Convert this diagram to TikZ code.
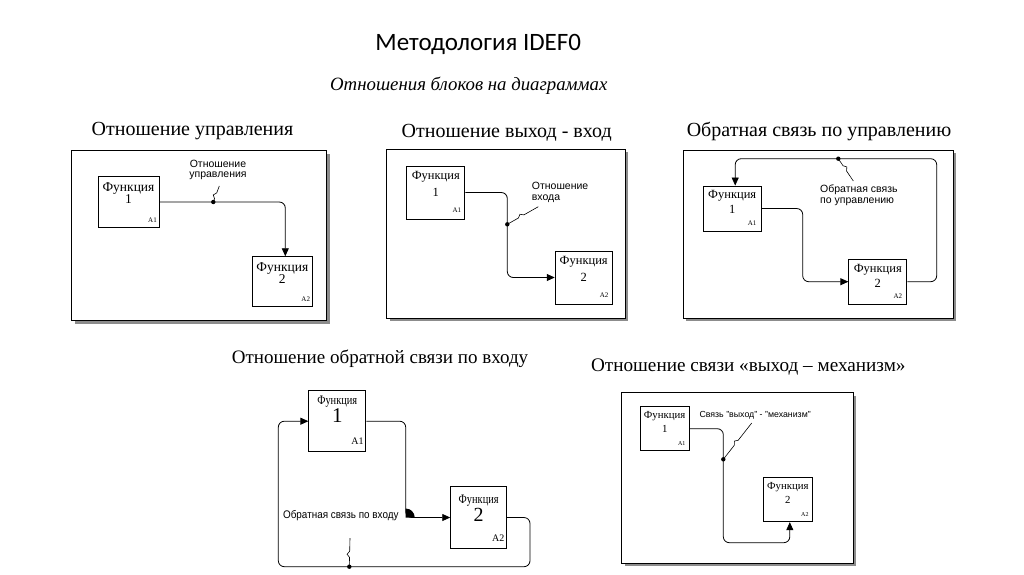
\documentclass[tikz,border=0pt]{standalone}
\usepackage{fontspec}
\setmainfont{Liberation Serif}
\setsansfont{Liberation Sans}
\newfontfamily\headfont{Carlito}
\usetikzlibrary{arrows.meta}
\usetikzlibrary{positioning}
\usetikzlibrary{decorations.pathmorphing}

\tikzset{
  fbox/.style={draw, line width=0.9pt, inner sep=0pt, fill=white},
  ftext/.style={align=center, inner sep=0pt},
  fcode/.style={inner sep=0pt, font=\fontsize{7}{7}\selectfont},
  flow/.style={line width=0.8pt, rounded corners=6pt, -{Triangle[length=8pt,width=7pt]}},
  squig/.style={line width=0.6pt, decorate, decoration={snake, amplitude=2.5pt, segment length=10pt, pre length=#1, post length=#1}},
  squig/.default=4pt,
  note/.style={font=\sffamily\fontsize{10.5}{10.5}\selectfont, inner sep=0pt},
  heading/.style={font=\fontsize{20}{22}\selectfont},
  frame/.style={draw, line width=0.7pt, fill=white},
  shadow/.style={fill=black!45},
}

\begin{document}
\begin{tikzpicture}[x=1pt,y=-1pt]
\useasboundingbox (0,0) rectangle (1024,574);

\node[font=\headfont\fontsize{25}{30}\selectfont] (title) at (478.3,44) {Методология IDEF0};
\node[font=\itshape\fontsize{18.8}{22}\selectfont] (sub) at (468.8,86) {Отношения блоков на диаграммах};

% panel 1
\node[heading] (h1) at (192.5,131) {Отношение управления};
\fill[shadow] (74.7,153.7) rectangle (329.7,323.7);
\draw[frame] (71.7,150.7) rectangle (326.7,320.7);
\node[fbox, minimum width=61pt, minimum height=51pt] (a1) at (128.5,202) {};
\node[fbox, minimum width=60pt, minimum height=50pt] (a2) at (282.3,281.7) {};
\node[ftext, font=\fontsize{13.5}{12.5}\selectfont, below=6pt of a1.north] (a1t) {Функция\\1};
\node[ftext, font=\fontsize{13.5}{12.5}\selectfont, below=6pt of a2.north] (a2t) {Функция\\2};
\node[fcode, above left=5pt and 2.5pt of a1.south east] (a1c) {A1};
\node[fcode, above left=5pt and 2.5pt of a2.south east] (a2c) {A2};
\coordinate (a12) at (213.3,202);
\draw[flow] (a1.east) -| ([xshift=3pt]a2.north);
\fill (a12) circle (2.2pt);
\node[note, align=center] (l1) at (218,170) {Отношение\\управления};
\coordinate (s1) at (219.3,186);
\draw[squig=3.5pt] (a12) -- (s1);

% panel 2
\node[heading] (h2) at (506.7,133) {Отношение выход - вход};
\fill[shadow] (389.7,152.3) rectangle (628,321.3);
\draw[frame] (386.7,149.3) rectangle (625,318.3);
\node[fbox, minimum width=58pt, minimum height=53pt] (b1) at (435.8,192.5) {};
\node[fbox, minimum width=57pt, minimum height=53pt] (b2) at (583.7,277.5) {};
\node[ftext, font=\fontsize{12.5}{17}\selectfont, below=5.5pt of b1.north] (b1t) {Функция\\1};
\node[ftext, font=\fontsize{12.5}{17}\selectfont, below=5.5pt of b2.north] (b2t) {Функция\\2};
\node[fcode, above left=7pt and 4pt of b1.south east] (b1c) {A1};
\node[fcode, above left=7pt and 4pt of b2.south east] (b2c) {A2};
\coordinate (b12) at (507.3,224.3);
\draw[flow] (b1.east) -| (b12) |- (b2.west);
\fill (b12) circle (2.2pt);
\node[note, align=left, anchor=north west] (l2) at (531.7,182) {Отношение\\входа};
\coordinate (s2) at (538.3,206.7);
\draw[squig=12.8pt] (b12) -- (s2);

% panel 3
\node[heading] (h3) at (819,131) {Обратная связь по управлению};
\fill[shadow] (686.3,153) rectangle (956.3,321.3);
\draw[frame] (683.3,150) rectangle (953.3,318.3);
\node[fbox, minimum width=58pt, minimum height=45pt] (c1) at (732.2,208.5) {};
\node[fbox, minimum width=58pt, minimum height=45pt] (c2) at (877.8,281.7) {};
\node[ftext, font=\fontsize{12.5}{15}\selectfont, below=5pt of c1.north] (c1t) {Функция\\1};
\node[ftext, font=\fontsize{12.5}{15}\selectfont, below=5pt of c2.north] (c2t) {Функция\\2};
\node[fcode, above left=6pt and 5pt of c1.south east] (c1c) {A1};
\node[fcode, above left=6pt and 5pt of c2.south east] (c2c) {A2};
\coordinate (c12) at (802.7,245);
\draw[flow] (c1.east) -| (c12) |- (c2.west);
\coordinate (c21) at (936.7,158.7);
\draw[flow] (c2.east) -| (c21) -| ([xshift=3pt]c1.north);
\coordinate (c3d) at (838.3,158.7);
\fill (c3d) circle (2.2pt);
\node[note, align=left, anchor=north west] (l3) at (820,185) {Обратная связь\\по управлению};
\coordinate (s3) at (853.3,181);
\draw[squig=8.5pt] (c3d) -- (s3);

% panel 4
\node[heading, font=\fontsize{19}{22}\selectfont] (h4) at (380,359) {Отношение обратной связи по входу};
\node[fbox, minimum width=57pt, minimum height=61pt] (e1) at (337.3,421.2) {};
\node[fbox, minimum width=56pt, minimum height=62pt] (e2) at (478.7,517.5) {};
\node[ftext, font=\fontsize{13}{13}\selectfont, below=6pt of e1.north] (e1t) {\scalebox{0.8}[1]{Функция}};
\node[ftext, font=\fontsize{13}{13}\selectfont, below=9pt of e2.north] (e2t) {\scalebox{0.8}[1]{Функция}};
\node[ftext, font=\fontsize{21}{21}\selectfont, anchor=base] (e1n) at ([yshift=-32.5pt]e1.north) {1};
\node[ftext, font=\fontsize{20}{20}\selectfont, anchor=base] (e2n) at ([yshift=-35.5pt]e2.north) {2};
\node[fcode, font=\fontsize{10}{10}\selectfont, above left=7.5pt and 2.5pt of e1.south east] (e1c) {A1};
\node[fcode, font=\fontsize{10}{10}\selectfont, above left=7.5pt and 2.5pt of e2.south east] (e2c) {A2};
\coordinate (e12) at (405.7,470);
\draw[flow] (e1.east) -| (e12) |- (e2.west);
\fill (405.7,517.5) -- (405.7,508.5) .. controls (410.7,508.5) and (414.7,512.5) .. (414.7,517.5) -- cycle;
\coordinate (e21) at (530,566.7);
\coordinate (e22) at (278.3,566.7);
\draw[flow] (e2.east) -| (e21) -- (e22) |- (e1.west);
\coordinate (e3d) at (349.3,566.7);
\fill (e3d) circle (2.2pt);
\node[note, font=\sffamily\fontsize{11}{11}\selectfont] (l4) at (340.8,516) {\scalebox{0.9}[1]{Обратная связь по входу}};
\coordinate (s4) at (350,538);
\draw[squig=9.3pt] (e3d) -- (s4);

% panel 5
\node[heading, font=\fontsize{19.2}{22}\selectfont] (h5) at (748.3,367) {Отношение связи «выход – механизм»};
\fill[shadow] (624.7,395.7) rectangle (856.3,566.3);
\draw[frame] (621.7,392.7) rectangle (853.3,563.3);
\node[fbox, minimum width=49pt, minimum height=44pt] (g1) at (664.7,428.7) {};
\node[fbox, minimum width=49pt, minimum height=44pt] (g2) at (787.8,499.7) {};
\node[ftext, font=\fontsize{10.8}{14.3}\selectfont, below=5pt of g1.north] (g1t) {Функция\\1};
\node[ftext, font=\fontsize{10.8}{14.3}\selectfont, below=5pt of g2.north] (g2t) {Функция\\2};
\node[fcode, font=\fontsize{6}{6}\selectfont, above left=5pt and 4pt of g1.south east] (g1c) {A1};
\node[fcode, font=\fontsize{6}{6}\selectfont, above left=5pt and 4pt of g2.south east] (g2c) {A2};
\coordinate (g12) at (723.3,542.7);
\draw[flow] (g1.east) -| (g12) -| ([xshift=2pt]g2.south);
\coordinate (g3d) at (723.3,459.3);
\fill (g3d) circle (2.2pt);
\node[note, font=\sffamily\fontsize{8.8}{8.8}\selectfont, anchor=north west] (l5) at (699.3,411) {Связь "выход" - "механизм"};
\coordinate (s5) at (751.7,423);
\draw[squig=18pt] (g3d) -- (s5);

\end{tikzpicture}
\end{document}
